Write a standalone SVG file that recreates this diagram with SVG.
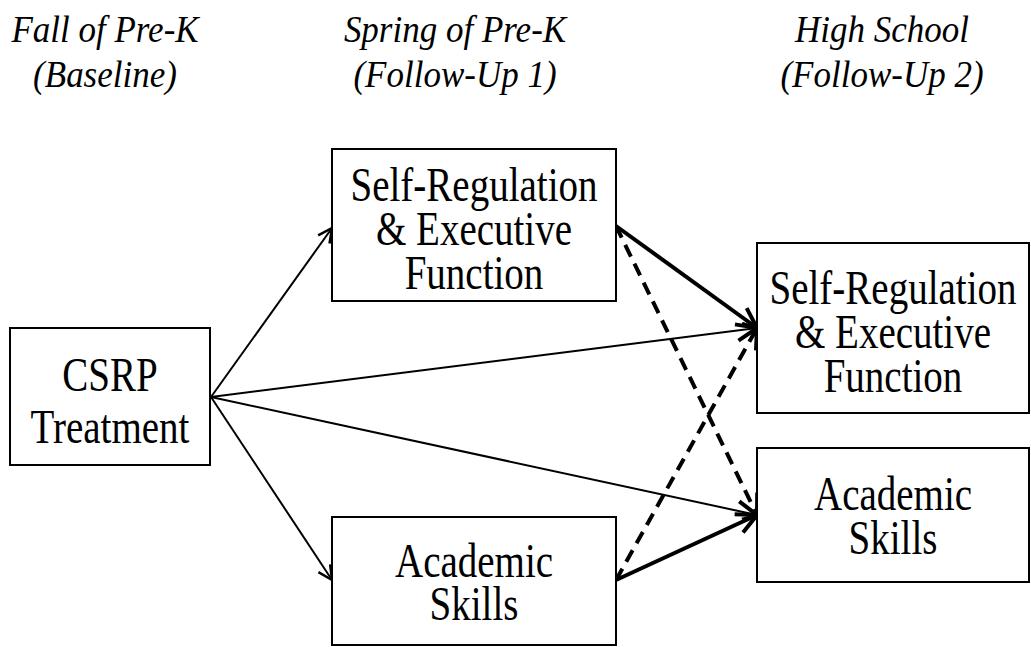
<svg xmlns="http://www.w3.org/2000/svg" width="1031" height="647" viewBox="0 0 1031 647">
<style>
.hdr{font-family:"Liberation Serif","Times New Roman",serif;font-style:italic;font-size:35px;fill:#000;text-anchor:middle}
.lbl{font-family:"Liberation Serif","Times New Roman",serif;font-size:39px;fill:#000;text-anchor:middle}
.box{fill:#fff;stroke:#000;stroke-width:2}
.thin{fill:none;stroke:#000;stroke-width:2;marker-end:url(#aThin)}
.thick{fill:none;stroke:#000;stroke-width:4;marker-end:url(#aThick)}
.dash{fill:none;stroke:#000;stroke-width:4;stroke-dasharray:13 8;marker-end:url(#aThick)}
</style>
<defs>
<marker id="aThin" markerUnits="userSpaceOnUse" viewBox="0 0 18 18" refX="16" refY="9" markerWidth="18" markerHeight="18" orient="auto">
<path d="M2,2 L16,9 L2,16" fill="none" stroke="#000" stroke-width="2.5"/>
</marker>
<marker id="aThick" markerUnits="userSpaceOnUse" viewBox="0 0 26 26" refX="23" refY="13" markerWidth="26" markerHeight="26" orient="auto">
<path d="M3,3 L23,13 L3,23" fill="none" stroke="#000" stroke-width="4"/>
</marker>
</defs>
<rect width="1031" height="647" fill="#fff"/>
<g id="headers">
<text class="hdr" transform="translate(105,42) scale(1,1.1)">Fall of Pre-K</text>
<text class="hdr" transform="translate(105,87) scale(1,1.1)">(Baseline)</text>
<text class="hdr" transform="translate(455,42) scale(1,1.1)">Spring of Pre-K</text>
<text class="hdr" transform="translate(455,87) scale(1,1.1)">(Follow-Up 1)</text>
<text class="hdr" transform="translate(882,42) scale(1,1.1)">High School</text>
<text class="hdr" transform="translate(882,87) scale(1,1.1)">(Follow-Up 2)</text>
</g>
<g id="connectors">
<line class="thin" x1="211" y1="397" x2="332" y2="228"/>
<line class="thin" x1="211" y1="397" x2="332" y2="580"/>
<line class="thin" x1="211" y1="397" x2="757" y2="328"/>
<line class="thin" x1="211" y1="397" x2="757" y2="515"/>
<line class="thick" x1="616" y1="226" x2="757" y2="328"/>
<line class="dash" x1="616" y1="226" x2="757" y2="515"/>
<line class="thick" x1="616" y1="580" x2="757" y2="515"/>
<line class="dash" x1="616" y1="580" x2="757" y2="328"/>
</g>
<g id="csrp">
<rect class="box" x="10" y="328" width="200" height="137"/>
<text class="lbl" transform="translate(110,391) scale(1,1.22)">CSRP</text>
<text class="lbl" transform="translate(110,443) scale(1,1.22)">Treatment</text>
</g>
<g id="spring-sr">
<rect class="box" x="332" y="149" width="284" height="152"/>
<text class="lbl" transform="translate(474,201) scale(1,1.22)">Self-Regulation</text>
<text class="lbl" transform="translate(474,245) scale(1,1.22)">&amp; Executive</text>
<text class="lbl" transform="translate(474,289) scale(1,1.22)">Function</text>
</g>
<g id="spring-acad">
<rect class="box" x="332" y="517" width="284" height="128"/>
<text class="lbl" transform="translate(474,577) scale(1,1.22)">Academic</text>
<text class="lbl" transform="translate(474,620) scale(1,1.22)">Skills</text>
</g>
<g id="hs-sr">
<rect class="box" x="757" y="243" width="272" height="170"/>
<text class="lbl" transform="translate(893,304) scale(1,1.22)">Self-Regulation</text>
<text class="lbl" transform="translate(893,348) scale(1,1.22)">&amp; Executive</text>
<text class="lbl" transform="translate(893,392) scale(1,1.22)">Function</text>
</g>
<g id="hs-acad">
<rect class="box" x="757" y="448" width="272" height="134"/>
<text class="lbl" transform="translate(893,510) scale(1,1.22)">Academic</text>
<text class="lbl" transform="translate(893,554) scale(1,1.22)">Skills</text>
</g>
</svg>
